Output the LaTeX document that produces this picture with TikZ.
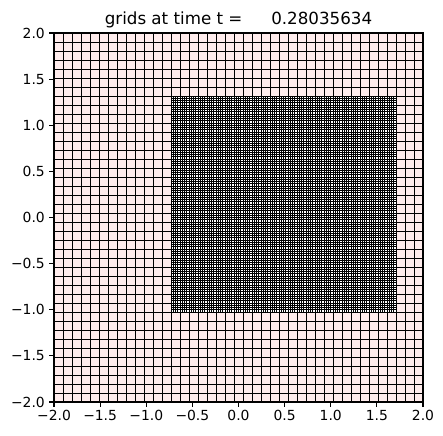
\documentclass[tikz,border=0pt]{standalone}
\usepackage{fontspec}
\setmainfont{DejaVu Sans}
\definecolor{cellpink}{RGB}{255,236,236}
\tikzset{
  gridline/.style={black,line width=0.8pt},
  fineline/.style={black,line width=0.75pt},
  spine/.style={black,line width=1.1pt},
  tickmark/.style={black,line width=1.1pt},
  ticklabel/.style={font=\fontsize{13.9pt}{16pt}\selectfont,inner sep=0pt},
  titletext/.style={font=\fontsize{16.7pt}{19pt}\selectfont,inner sep=0pt}
}
\begin{document}
\begin{tikzpicture}[x=1pt,y=1pt]
\useasboundingbox (0,0) rectangle (443,435);
% backgrounds
\fill[cellpink] (54,33) rectangle (423,402);
\fill[white] (171,123) rectangle (396,339);
% coarse grid
\foreach \k in {0,...,41}{
  \draw[gridline] ({54+9*\k},33) -- ({54+9*\k},402);
  \draw[gridline] (54,{33+9*\k}) -- (423,{33+9*\k});
}
% fine grid
\foreach \k in {0,...,100}{
  \draw[fineline] ({171+2.25*\k},123) -- ({171+2.25*\k},339);
}
\foreach \k in {0,...,96}{
  \draw[fineline] (171,{123+2.25*\k}) -- (396,{123+2.25*\k});
}
% spine
\draw[spine] (54,33) rectangle (423,402);
% ticks
\foreach \i/\lab in {0/−2.0,1/−1.5,2/−1.0,3/−0.5,4/0.0,5/0.5,6/1.0,7/1.5,8/2.0}{
  \draw[tickmark] ({54+46.125*\i},33) -- ({54+46.125*\i},28);
  \node[ticklabel,anchor=center] (xl\i) at ({54+46.125*\i},19.5) {\lab};
  \draw[tickmark] (54,{33+46.125*\i}) -- (49,{33+46.125*\i});
  \node[ticklabel,anchor=east] (yl\i) at (45,{33+46.125*\i}) {\lab};
}
\node[titletext] (title) at (238.5,415) {grids at time t =\hspace{23.5pt} 0.28035634};
\end{tikzpicture}
\end{document}
